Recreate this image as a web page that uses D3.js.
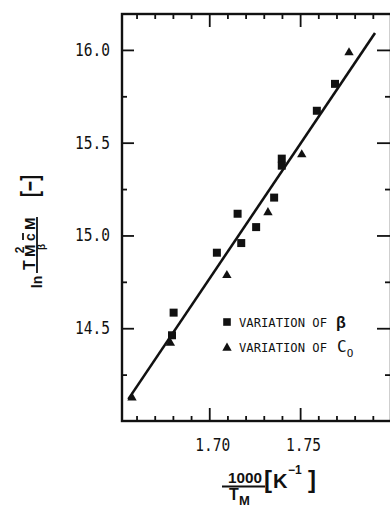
<!DOCTYPE html>
<html>
<head>
<meta charset="utf-8">
<script src="https://cdn.jsdelivr.net/npm/d3@7"></script>
<style>
  body { margin: 0; background: #fff; }
  svg { display: block; }
</style>
</head>
<body>
<div class="chart"></div>
<script>
// variation of beta (squares)
const betaX = [1.6804, 1.6795, 1.7042, 1.7156, 1.7176, 1.7258, 1.7357, 1.7399, 1.7399, 1.7592, 1.7692];
const betaY = [14.584, 14.462, 14.907, 15.117, 14.959, 15.045, 15.204, 15.414, 15.376, 15.672, 15.817];
// variation of C0 (triangles)
const c0X = [1.6575, 1.6786, 1.7097, 1.7323, 1.7509, 1.7769];
const c0Y = [14.131, 14.426, 14.790, 15.129, 15.441, 15.991];
// fitted line end points
const fitX = [1.6555, 1.7912];
const fitY = [14.118, 16.091];

const xMajor = [1.70, 1.75];
const xMinor = [1.66, 1.67, 1.68, 1.69, 1.71, 1.72, 1.73, 1.74, 1.76, 1.77, 1.78, 1.79];
const yMajor = [14.5, 15.0, 15.5, 16.0];
const yMinor = [14.25, 14.75, 15.25, 15.75];

const W = 390, H = 508;
const mL = 122, mR = 391, mT = 14, mB = 421;

const x = d3.scaleLinear().domain([1.652, 1.80]).range([mL, mR]);
const y = d3.scaleLinear().domain([14.0, 16.1935]).range([mB, mT]);

const svg = d3.select(".chart").append("svg")
  .attr("width", W).attr("height", H);

const ink = "#111";
const tickFont = "'DejaVu Sans Mono', monospace";
const boldFont = "'Liberation Sans', Arial, sans-serif";

function styleAxis(g, width) {
  g.select(".domain").remove();
  g.selectAll(".tick line").attr("stroke", ink).attr("stroke-width", width);
}

// left axis
const gl = svg.append("g").attr("transform", `translate(${mL},0)`)
  .call(d3.axisLeft(y).tickValues(yMajor).tickSize(-12).tickPadding(12).tickFormat(d3.format(".1f")));
styleAxis(gl, 1.8);
gl.selectAll(".tick text")
  .attr("font-family", tickFont).attr("font-size", 17).attr("fill", ink)
  .attr("textLength", 35).attr("lengthAdjust", "spacingAndGlyphs");
const glm = svg.append("g").attr("transform", `translate(${mL},0)`)
  .call(d3.axisLeft(y).tickValues(yMinor).tickSize(-5).tickFormat(""));
styleAxis(glm, 1.8);

// right axis
const gr = svg.append("g").attr("transform", `translate(${mR},0)`)
  .call(d3.axisRight(y).tickValues(yMajor).tickSize(-14).tickFormat(""));
styleAxis(gr, 1.8);
const grm = svg.append("g").attr("transform", `translate(${mR},0)`)
  .call(d3.axisRight(y).tickValues(yMinor).tickSize(-6).tickFormat(""));
styleAxis(grm, 1.8);

// bottom axis
const gb = svg.append("g").attr("transform", `translate(0,${mB})`)
  .call(d3.axisBottom(x).tickValues(xMajor).tickSize(-13).tickPadding(18).tickFormat(d3.format(".2f")));
styleAxis(gb, 1.8);
gb.selectAll(".tick text")
  .attr("font-family", tickFont).attr("font-size", 17).attr("fill", ink)
  .attr("dx", 3)
  .attr("textLength", 35).attr("lengthAdjust", "spacingAndGlyphs");
const gbm = svg.append("g").attr("transform", `translate(0,${mB})`)
  .call(d3.axisBottom(x).tickValues(xMinor).tickSize(-5).tickFormat(""));
styleAxis(gbm, 1.8);

// top axis
const gt = svg.append("g").attr("transform", `translate(0,${mT})`)
  .call(d3.axisTop(x).tickValues(xMajor).tickSize(-13).tickFormat(""));
styleAxis(gt, 1.8);
const gtm = svg.append("g").attr("transform", `translate(0,${mT})`)
  .call(d3.axisTop(x).tickValues(xMinor).tickSize(-5).tickFormat(""));
styleAxis(gtm, 1.8);

// frame
svg.append("rect")
  .attr("x", mL).attr("y", mT)
  .attr("width", mR - mL).attr("height", mB - mT)
  .attr("fill", "none").attr("stroke", ink).attr("stroke-width", 2.4);

// fitted line
svg.append("path")
  .datum(d3.zip(fitX, fitY))
  .attr("d", d3.line().x(d => x(d[0])).y(d => y(d[1])))
  .attr("fill", "none").attr("stroke", ink).attr("stroke-width", 2.6);

// markers
const sq = d3.symbol().type(d3.symbolSquare).size(64);
const tri = d3.symbol().type(d3.symbolTriangle).size(38);

svg.append("g").selectAll("path")
  .data(d3.zip(betaX, betaY))
  .join("path")
  .attr("transform", d => `translate(${x(d[0])},${y(d[1])})`)
  .attr("d", sq).attr("fill", ink);

svg.append("g").selectAll("path")
  .data(d3.zip(c0X, c0Y))
  .join("path")
  .attr("transform", d => `translate(${x(d[0])},${y(d[1]) + 1})`)
  .attr("d", tri).attr("fill", ink);

// legend
const lg = svg.append("g").attr("transform", "translate(227,322)");
lg.append("path").attr("d", sq).attr("fill", ink).attr("transform", "scale(0.95)");
lg.append("path").attr("d", tri).attr("fill", ink).attr("transform", "translate(0,26)");
lg.append("text").attr("x", 12).attr("y", 5)
  .attr("font-family", tickFont).attr("font-size", 12.5).attr("fill", ink)
  .attr("textLength", 88).attr("lengthAdjust", "spacingAndGlyphs")
  .text("VARIATION OF");
lg.append("text").attr("x", 109).attr("y", 6)
  .attr("font-family", boldFont).attr("font-weight", "bold").attr("font-size", 16).attr("fill", ink)
  .text("β");
lg.append("text").attr("x", 12).attr("y", 30)
  .attr("font-family", tickFont).attr("font-size", 12.5).attr("fill", ink)
  .attr("textLength", 88).attr("lengthAdjust", "spacingAndGlyphs")
  .text("VARIATION OF");
const c0 = lg.append("text").attr("x", 110).attr("y", 30)
  .attr("font-family", tickFont).attr("font-size", 16).attr("fill", ink);
c0.append("tspan").text("C");
c0.append("tspan").attr("font-size", 11).attr("dy", 5).text("O");

// x axis title
function bold(g, tx, ty, size, s, anchor) {
  return g.append("text").attr("x", tx).attr("y", ty)
    .attr("text-anchor", anchor || "start")
    .attr("font-family", boldFont).attr("font-weight", "bold")
    .attr("font-size", size).attr("fill", ink).text(s);
}
const xt = svg.append("g");
bold(xt, 245, 483, 14, "1000", "middle")
  .attr("textLength", 34).attr("lengthAdjust", "spacingAndGlyphs");
xt.append("line").attr("x1", 222).attr("x2", 265).attr("y1", 486.5).attr("y2", 486.5)
  .attr("stroke", ink).attr("stroke-width", 1.8);
bold(xt, 229, 500, 16, "T");
bold(xt, 239, 505, 13, "M");
bold(xt, 264, 488, 24, "[");
bold(xt, 273, 488, 20, "K");
bold(xt, 288, 474, 12, "−1");
bold(xt, 308, 488, 24, "]");

// y axis title (rotated)
const yt = svg.append("g").attr("transform", "translate(37,245) rotate(-90)");
yt.append("line").attr("x1", -28).attr("x2", 28).attr("y1", 0).attr("y2", 0)
  .attr("stroke", ink).attr("stroke-width", 1.8);
bold(yt, -37, 5, 14, "ln", "middle");
bold(yt, -25, -2, 16, "T");
bold(yt, -12, -2, 15, "M");
bold(yt, -5, -13, 12, "2", "middle");
bold(yt, 4, -2, 14, "c");
yt.append("line").attr("x1", 5).attr("x2", 12).attr("y1", -14).attr("y2", -14)
  .attr("stroke", ink).attr("stroke-width", 1.8);
bold(yt, 15, -2, 15, "M");
bold(yt, -2, 8, 10, "β", "middle");
bold(yt, 59, 1, 24, "[−]", "middle")
  .attr("textLength", 22).attr("lengthAdjust", "spacingAndGlyphs");
</script>
</body>
</html>
